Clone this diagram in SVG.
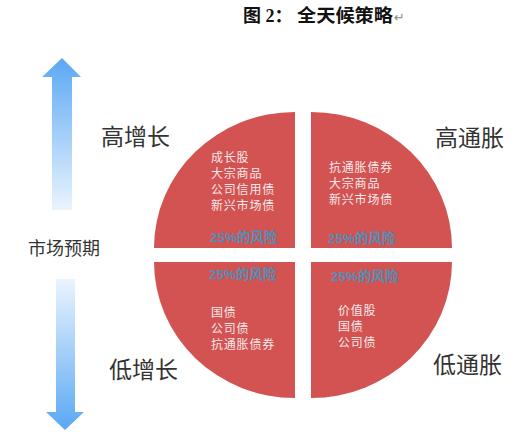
<svg xmlns="http://www.w3.org/2000/svg" width="532" height="436" viewBox="0 0 532 436">
<defs>
<linearGradient id="gUp" x1="0" y1="0" x2="0" y2="1">
<stop offset="0" stop-color="#5aa8f4"/>
<stop offset="1" stop-color="#eaf4fd"/>
</linearGradient>
<linearGradient id="gDown" x1="0" y1="0" x2="0" y2="1">
<stop offset="0" stop-color="#eaf4fd"/>
<stop offset="1" stop-color="#5aa8f4"/>
</linearGradient>
<style>
.q{fill:#d25352}
.w{font-family:"Noto Sans CJK SC","Noto Sans",sans-serif;font-size:12px;letter-spacing:0.8px;fill:#f7e9e9}
.b{font-family:"Liberation Sans","Noto Sans CJK SC",sans-serif;font-size:13.5px;font-weight:bold;fill:#4f8fb8}
.big{font-family:"Noto Sans CJK SC","Noto Sans",sans-serif;font-size:23px;fill:#333333}
.mid{font-family:"Noto Sans CJK SC","Noto Sans",sans-serif;font-size:18px;fill:#333333}
.t{font-family:"Liberation Serif","Noto Sans CJK SC",serif;font-size:18px;font-weight:bold;fill:#111111}
</style>
</defs>
<rect width="532" height="436" fill="#ffffff"/>
<g id="title">
<text class="t" x="243" y="22">图 2：</text>
<text class="t" x="297" y="22" textLength="96" lengthAdjust="spacingAndGlyphs">全天候策略</text>
<text x="394" y="22" font-family="DejaVu Sans,sans-serif" font-size="13" fill="#888888">↵</text>
</g>
<g id="arrows">
<path d="M62,58 L81,77 L72,77 L72,210 L52,210 L52,77 L42,77 Z" fill="url(#gUp)"/>
<path d="M56,279 L75,279 L75,412 L84,412 L65,430 L46,412 L56,412 Z" fill="url(#gDown)"/>
</g>
<g id="q-ul">
<path class="q" d="M295,248 L154,248 A141,136 0 0 1 295,112 Z"/>
<text class="w" x="211" y="162">成长股</text>
<text class="w" x="211" y="178">大宗商品</text>
<text class="w" x="211" y="194">公司信用债</text>
<text class="w" x="211" y="210">新兴市场债</text>
<text class="b" x="210" y="242">25%的风险</text>
</g>
<g id="q-ur">
<path class="q" d="M311,248 L311,112 A141,136 0 0 1 452,248 Z"/>
<text class="w" x="329" y="172">抗通胀债券</text>
<text class="w" x="329" y="188">大宗商品</text>
<text class="w" x="329" y="204">新兴市场债</text>
<text class="b" x="328" y="243">25%的风险</text>
</g>
<g id="q-ll">
<path class="q" d="M295,262 L295,398 A141,136 0 0 1 154,262 Z"/>
<text class="b" x="209" y="279">25%的风险</text>
<text class="w" x="211" y="317">国债</text>
<text class="w" x="211" y="333">公司债</text>
<text class="w" x="211" y="349">抗通胀债券</text>
</g>
<g id="q-lr">
<path class="q" d="M311,262 L452,262 A141,136 0 0 1 311,398 Z"/>
<text class="b" x="331" y="281">25%的风险</text>
<text class="w" x="338" y="315">价值股</text>
<text class="w" x="338" y="331">国债</text>
<text class="w" x="338" y="347">公司债</text>
</g>
<g id="labels">
<text class="big" x="101" y="145">高增长</text>
<text class="big" x="435" y="146">高通胀</text>
<text class="big" x="109" y="378">低增长</text>
<text class="big" x="433" y="373">低通胀</text>
<text class="mid" x="28" y="255">市场预期</text>
</g>
</svg>
